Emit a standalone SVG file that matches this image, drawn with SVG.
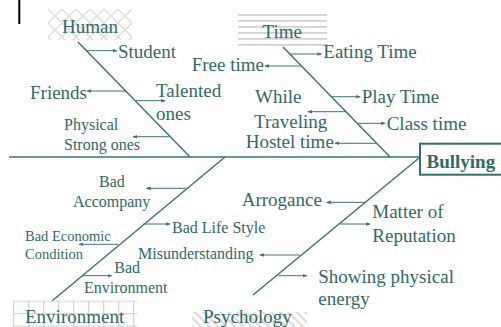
<svg xmlns="http://www.w3.org/2000/svg" width="501" height="327" viewBox="0 0 501 327">
  <style>
    .t { font-family: "Liberation Serif", "Times New Roman", serif; font-size: 19px; fill: #2f6a68; }
    .s { font-size: 16px; }
    .xs { font-size: 14.5px; }
    .b { font-weight: bold; }
    .bone { stroke: #336e6c; stroke-width: 1.3; fill: none; }
    .arr { stroke: #3d7573; stroke-width: 1; fill: none; marker-end: url(#head); }
    .spine { stroke: #6a9896; stroke-width: 2; fill: none; }
  </style>
  <defs>
    <marker id="head" viewBox="0 0 6 6" refX="5" refY="3" markerWidth="5" markerHeight="5" markerUnits="userSpaceOnUse" orient="auto">
      <path d="M0,0.8 L6,3 L0,5.2 Z" fill="#3d7573"/>
    </marker>
    <pattern id="lattice" width="14" height="14" patternUnits="userSpaceOnUse" x="48" y="9">
      <path d="M0,0 L14,14 M14,0 L0,14" stroke="#dadada" stroke-width="1.3"/>
    </pattern>
    <pattern id="hstripes" width="10" height="6" patternUnits="userSpaceOnUse" y="14">
      <rect x="0" y="0" width="10" height="1.8" fill="#d2d2d2"/>
    </pattern>
    <pattern id="grid" width="15" height="12.5" patternUnits="userSpaceOnUse" x="13" y="300.5">
      <path d="M0.5,0 V12.5 M0,0.5 H15" stroke="#d4d4d4" stroke-width="1.6"/>
    </pattern>
    <pattern id="dstripes" width="6" height="6" patternUnits="userSpaceOnUse" patternTransform="rotate(-45)">
      <rect x="0" y="0" width="2.4" height="6" fill="#dcdcdc"/>
    </pattern>
  </defs>

  <rect width="501" height="327" fill="#ffffff"/>

  <!-- cursor mark -->
  <line x1="19.3" y1="0" x2="19.3" y2="24" stroke="#000" stroke-width="2"/>

  <g id="connectors">
    <!-- spine and ribs -->
    <line class="spine" x1="9" y1="157" x2="420" y2="157"/>
    <line class="bone" x1="78" y1="42" x2="190" y2="157"/>
    <line class="bone" x1="283" y1="47" x2="390" y2="157"/>
    <line class="bone" x1="225" y1="157" x2="52" y2="301"/>
    <line class="bone" x1="419" y1="158" x2="253" y2="295"/>

    <!-- Human causes -->
    <line class="arr" x1="87" y1="50.7" x2="117" y2="50.7"/>
    <line class="arr" x1="126" y1="91" x2="87" y2="91"/>
    <line class="arr" x1="136" y1="100.7" x2="165" y2="100.7"/>
    <line class="arr" x1="169" y1="136.7" x2="133" y2="136.7"/>

    <!-- Time causes -->
    <line class="arr" x1="290" y1="54" x2="321.5" y2="54"/>
    <line class="arr" x1="301" y1="66" x2="265" y2="66"/>
    <line class="arr" x1="332" y1="96.7" x2="360" y2="96.7"/>
    <line class="arr" x1="346" y1="111.7" x2="308" y2="111.7"/>
    <line class="arr" x1="357" y1="123.3" x2="385" y2="123.3"/>
    <line class="arr" x1="376" y1="143.3" x2="335" y2="143.3"/>

    <!-- Environment causes -->
    <line class="arr" x1="186" y1="188.3" x2="146.5" y2="188.3"/>
    <line class="arr" x1="143" y1="224" x2="170" y2="224"/>
    <line class="arr" x1="118" y1="244.3" x2="79.3" y2="244.3"/>
    <line class="arr" x1="82.5" y1="275.7" x2="111.7" y2="275.7"/>

    <!-- Psychology causes -->
    <line class="arr" x1="366" y1="202.3" x2="326.7" y2="202.3"/>
    <line class="arr" x1="340" y1="224" x2="370" y2="224"/>
    <line class="arr" x1="300" y1="255" x2="260" y2="255"/>
    <line class="arr" x1="278.3" y1="275.7" x2="306.7" y2="275.7"/>
  </g>

  <g id="human">
    <rect x="48" y="9" width="84" height="31" fill="url(#lattice)"/>
    <text class="t" x="62" y="33">Human</text>
  </g>
  <g id="time">
    <rect x="238" y="14" width="89" height="32" fill="url(#hstripes)"/>
    <text class="t" x="262.5" y="37.5">Time</text>
  </g>
  <g id="environment">
    <rect x="13" y="300.5" width="124" height="26.5" fill="url(#grid)"/>
    <text class="t" x="25" y="323">Environment</text>
  </g>
  <g id="psychology">
    <rect x="192" y="312" width="115" height="15" fill="url(#dstripes)"/>
    <text class="t" x="203" y="323">Psychology</text>
  </g>
  <g id="bullying">
    <rect x="420" y="143.7" width="90" height="31" fill="#ffffff" stroke="#336e6c" stroke-width="2"/>
    <text class="t b" x="426.5" y="168">Bullying</text>
  </g>

  <g id="human-causes">
    <text class="t" x="118" y="57.7">Student</text>
    <text class="t" x="30" y="98.5">Friends</text>
    <text class="t" x="156" y="97">Talented</text>
    <text class="t" x="156" y="119.5">ones</text>
    <text class="t s" x="64" y="130">Physical</text>
    <text class="t s" x="64" y="150">Strong ones</text>
  </g>
  <g id="time-causes">
    <text class="t" x="323.3" y="58.3">Eating Time</text>
    <text class="t" x="191.7" y="70.7">Free time</text>
    <text class="t" x="361.7" y="103">Play Time</text>
    <text class="t" x="255" y="103">While</text>
    <text class="t" x="254" y="128.3">Traveling</text>
    <text class="t" x="386.7" y="130">Class time</text>
    <text class="t" x="245.7" y="148.3">Hostel time</text>
  </g>
  <g id="environment-causes">
    <text class="t s" x="99" y="187.3">Bad</text>
    <text class="t s" x="73" y="207.3">Accompany</text>
    <text class="t s" x="172" y="233">Bad Life Style</text>
    <text class="t xs" x="25" y="240.7">Bad Economic</text>
    <text class="t xs" x="25" y="259.3">Condition</text>
    <text class="t s" x="114.3" y="273.3">Bad</text>
    <text class="t s" x="84" y="293.3">Environment</text>
  </g>
  <g id="psychology-causes">
    <text class="t" x="241.7" y="206">Arrogance</text>
    <text class="t" x="372.3" y="218.3">Matter of</text>
    <text class="t" x="372.3" y="241.7">Reputation</text>
    <text class="t s" x="138" y="259.3">Misunderstanding</text>
    <text class="t" x="318.3" y="282.7">Showing physical</text>
    <text class="t" x="318.3" y="305">energy</text>
  </g>
</svg>
